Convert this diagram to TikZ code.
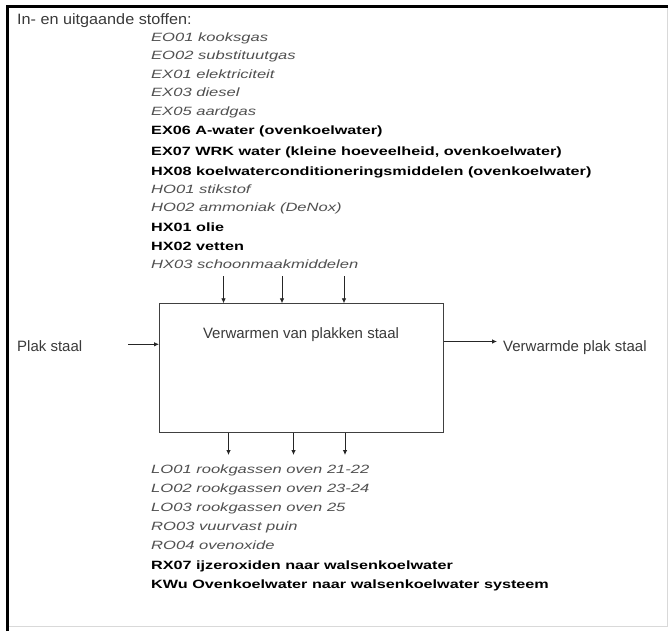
\documentclass[tikz,border=0pt]{standalone}
\usepackage{fontspec}
\setmainfont{Liberation Sans}
\newfontfamily\widefont[FakeStretch=1.35]{Liberation Sans}
\newfontfamily\wideit[FakeStretch=1.38]{Liberation Sans Italic}
\newfontfamily\titlefont[FakeStretch=1.08]{Liberation Sans}
\usetikzlibrary{arrows.meta}
\definecolor{txtgray}{HTML}{505050}
\definecolor{lblgray}{HTML}{3A3A3A}
\begin{document}
\begin{tikzpicture}[x=1pt,y=-1pt,
  itm/.style={anchor=base west,inner sep=0pt},
  gi/.style={itm,text=txtgray,font=\wideit\fontsize{12}{14}\selectfont},
  bd/.style={itm,text=black,font=\widefont\bfseries\fontsize{12}{14}\selectfont},
  lbl/.style={itm,text=lblgray,font=\fontsize{15}{17}\selectfont},
  arr/.style={draw=black!85,line width=0.8pt,-{Latex[length=5pt,width=4.5pt]}}]
\useasboundingbox (0,0) rectangle (668,631);
\fill[white] (0,0) rectangle (668,631);
\draw[black!15,line width=1pt] (667.5,6) -- (667.5,626.5) -- (7,626.5);
\draw[black,line width=3pt] (7.5,631) -- (7.5,6.5) -- (668,6.5);
\node[lbl,font=\titlefont\fontsize{15}{17}\selectfont] (title) at (17,24.7) {In- en uitgaande stoffen:};
\node[gi] (i1) at (151,41.5) {EO01 kooksgas};
\node[gi] (i2) at (151,59.8) {EO02 substituutgas};
\node[gi] (i3) at (151,78.2) {EX01 elektriciteit};
\node[gi] (i4) at (151,96.5) {EX03 diesel};
\node[gi] (i5) at (151,115.5) {EX05 aardgas};
\node[bd] (i6) at (151,134.8) {EX06 A-water (ovenkoelwater)};
\node[bd] (i7) at (151,155.2) {EX07 WRK water (kleine hoeveelheid, ovenkoelwater)};
\node[bd] (i8) at (151,175.2) {HX08 koelwaterconditioneringsmiddelen (ovenkoelwater)};
\node[gi] (i9) at (151,193.5) {HO01 stikstof};
\node[gi] (i10) at (151,211.8) {HO02 ammoniak (DeNox)};
\node[bd] (i11) at (151,231.8) {HX01 olie};
\node[bd] (i12) at (151,250.2) {HX02 vetten};
\node[gi] (i13) at (151,268.5) {HX03 schoonmaakmiddelen};
\node[draw=black!75,line width=0.9pt,minimum width=284pt,minimum height=129pt,inner sep=0pt,anchor=north west] (box) at (159,303.3) {};
\node[lbl,anchor=base] (boxlbl) at (301,338.3) {Verwarmen van plakken staal};
\coordinate (t1) at (223.5,276);
\coordinate (t2) at (282,276);
\coordinate (t3) at (344,276);
\draw[arr] (t1) -- (t1 |- box.north);
\draw[arr] (t2) -- (t2 |- box.north);
\draw[arr] (t3) -- (t3 |- box.north);
\node[lbl] (in) at (17,351.5) {Plak staal};
\coordinate (ins) at (128,344.3);
\draw[arr] (ins) -- (ins -| box.west);
\node[lbl] (out) at (503,351.5) {Verwarmde plak staal};
\coordinate (outs) at (497,341.5);
\draw[arr] (outs -| box.east) -- (outs);
\coordinate (b1) at (228.5,455);
\coordinate (b2) at (293.5,455);
\coordinate (b3) at (345,455);
\draw[arr] (b1 |- box.south) -- (b1);
\draw[arr] (b2 |- box.south) -- (b2);
\draw[arr] (b3 |- box.south) -- (b3);
\node[gi] (o1) at (151,473.5) {LO01 rookgassen oven 21-22};
\node[gi] (o2) at (151,492.8) {LO02 rookgassen oven 23-24};
\node[gi] (o3) at (151,511.8) {LO03 rookgassen oven 25};
\node[gi] (o4) at (151,530.2) {RO03 vuurvast puin};
\node[gi] (o5) at (151,549.5) {RO04 ovenoxide};
\node[bd] (o6) at (151,569.5) {RX07 ijzeroxiden naar walsenkoelwater};
\node[bd] (o7) at (151,588.5) {KWu Ovenkoelwater naar walsenkoelwater systeem};
\end{tikzpicture}
\end{document}
